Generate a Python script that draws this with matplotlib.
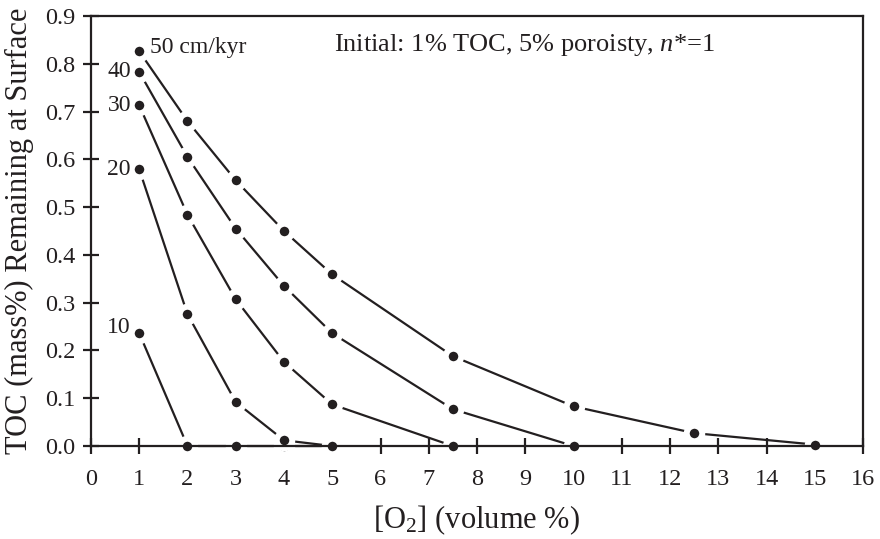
import numpy as np
import matplotlib
matplotlib.use("Agg")
import matplotlib.pyplot as plt

plt.rcParams["font.family"] = ["Liberation Serif", "DejaVu Serif"]
plt.rcParams["mathtext.fontset"] = "custom"
plt.rcParams["mathtext.rm"] = "Liberation Serif"
plt.rcParams["mathtext.it"] = "Liberation Serif:italic"

INK = "#231f20"

# TOC remaining at the surface vs. O2 level, one curve per sedimentation rate (cm/kyr)
o2_10 = [1, 2, 3, 4, 5]
toc_10 = [0.236, 0.0, 0.0, 0.0, 0.0]
o2_20 = [1, 2, 3, 4, 5]
toc_20 = [0.579, 0.276, 0.092, 0.012, 0.0]
o2_30 = [1, 2, 3, 4, 5, 7.5]
toc_30 = [0.713, 0.484, 0.307, 0.176, 0.087, 0.0]
o2_40 = [1, 2, 3, 4, 5, 7.5, 10]
toc_40 = [0.783, 0.605, 0.455, 0.335, 0.236, 0.077, 0.0]
o2_50 = [1, 2, 3, 4, 5, 7.5, 10, 12.5, 15]
toc_50 = [0.826, 0.680, 0.556, 0.450, 0.359, 0.188, 0.083, 0.027, 0.003]

series = [
    ("10", o2_10, toc_10, (-6, 4)),
    ("20", o2_20, toc_20, (-6, 0)),
    ("30", o2_30, toc_30, (-6, 0)),
    ("40", o2_40, toc_40, (-6, 0)),
    ("50 cm/kyr", o2_50, toc_50, (8, 3)),
]

fig = plt.figure(figsize=(8.8, 5.39), dpi=100)
ax = fig.add_axes([0.1034, 0.1725, 0.8773, 0.7978])

for label, xs, ys, off in series:
    # white marker edge leaves a small gap in the line around each point
    ax.plot(xs, ys, color=INK, lw=1.6, marker="o", ms=11.2,
            mfc=INK, mec="white", mew=4.3, clip_on=False, zorder=2)
    ax.annotate(label, (xs[0], ys[0]), xytext=off, textcoords="offset points",
                fontsize=17, ha="left" if off[0] > 0 else "right",
                va="center", color=INK)

ax.text(0.315, 0.932, "Initial: 1% TOC, 5% poroisty, $n$*=1",
        transform=ax.transAxes, fontsize=19, ha="left", va="center",
        color=INK)

ax.set_xlim(0, 16)
ax.set_ylim(0, 0.9)
ax.set_xticks(np.arange(0, 17, 1))
ax.set_yticks(np.arange(0, 0.91, 0.1))
ax.set_yticklabels([f"{v:.1f}" for v in np.arange(0, 0.91, 0.1)])

for s in ax.spines.values():
    s.set_linewidth(1.6)
    s.set_color(INK)
    s.set_zorder(3)
ax.tick_params(axis="x", direction="inout", length=11, width=1.6,
               labelsize=17.5, pad=11, colors=INK)
ax.tick_params(axis="y", direction="inout", length=11, width=1.6,
               labelsize=17.5, pad=6, colors=INK)

ax.set_xlabel("[O$_2$] (volume %)", fontsize=22, labelpad=10, color=INK)
ax.set_ylabel("TOC (mass%) Remaining at Surface", fontsize=22,
              labelpad=8, color=INK)

fig.savefig("out.png", dpi=100)
